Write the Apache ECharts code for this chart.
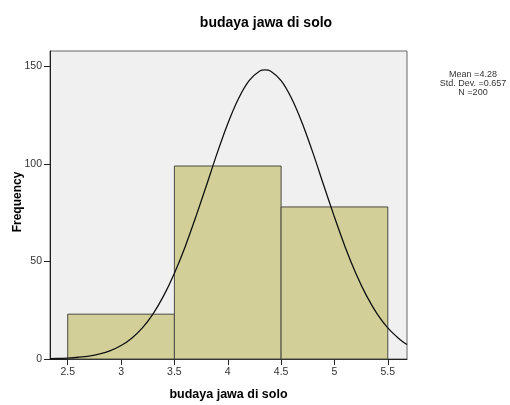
<!DOCTYPE html>
<html>
<head>
<meta charset="utf-8">
<script src="https://cdn.jsdelivr.net/npm/echarts@6/dist/echarts.min.js"></script>
<style>html,body{margin:0;padding:0;background:#fff;}#c{width:510px;height:405px;}</style>
</head>
<body>
<div id="c"></div>
<script>
var binStarts = [2.5, 3.5, 4.5];
var binEnds = [3.5, 4.5, 5.5];
var counts = [23, 99, 78];
var curveX = [2.334, 2.4, 2.5, 2.6, 2.7, 2.8, 2.9, 3.0, 3.1, 3.2, 3.3, 3.4, 3.5, 3.6, 3.7, 3.8, 3.9, 4.0, 4.1, 4.2, 4.3, 4.35, 4.4, 4.5, 4.6, 4.7, 4.8, 4.9, 5.0, 5.1, 5.2, 5.3, 5.4, 5.5, 5.6, 5.68];
var curveY = [0.2, 0.25, 0.5, 0.9, 1.5, 2.6, 4.3, 6.9, 10.7, 16, 23.2, 32.5, 44, 57.5, 72.8, 89, 105.5, 120.7, 133.5, 142.8, 147.7, 148.3, 147.7, 142.8, 133.5, 120.7, 105.5, 89, 72.8, 57.5, 44, 32.5, 23.2, 16, 10.7, 7.4];
var xTicks = [2.5, 3, 3.5, 4, 4.5, 5, 5.5];
var yTicks = [0, 50, 100, 150];
var statsLines = ['Mean =4.28', 'Std. Dev. =0.657', 'N =200'];
var yName = 'Frequency';

var chart = echarts.init(document.getElementById('c'), null, {renderer: 'canvas'});
var bins = binStarts.map(function (s, i) { return [s, binEnds[i], counts[i]]; });
var curve = curveX.map(function (x, i) { return [x, curveY[i]]; });
var font = 'Arial, Liberation Sans';

var graphics = statsLines.map(function (t, i) {
  return {
    type: 'text',
    style: {text: t, x: 473, y: 75 + i * 9, textAlign: 'center', textVerticalAlign: 'middle',
      fontFamily: font, fontSize: 9, fill: '#333'}
  };
});
graphics.push({
  type: 'text', x: 18, y: 202, rotation: Math.PI / 2,
  style: {text: yName, x: 0, y: 0, textAlign: 'center', textVerticalAlign: 'middle',
    fontFamily: font, fontSize: 12, fontWeight: 'bold', fill: '#000'}
});

chart.setOption({
  animation: false,
  backgroundColor: '#fff',
  title: {
    text: 'budaya jawa di solo',
    left: 261, top: 11, textAlign: 'center',
    textStyle: {fontFamily: font, fontSize: 14, fontWeight: 'bold', color: '#000'}
  },
  grid: {
    left: 50, top: 51, right: 103, bottom: 46,
    containLabel: false, outerBoundsMode: 'none',
    show: true, backgroundColor: '#f0f0f0', borderColor: '#666', borderWidth: 1
  },
  xAxis: {
    type: 'value', min: 2.334, max: 5.68,
    name: 'budaya jawa di solo', nameLocation: 'middle', nameGap: 29,
    nameTextStyle: {fontFamily: font, fontSize: 12.5, fontWeight: 'bold', color: '#000'},
    axisLine: {show: true, onZero: false, lineStyle: {color: '#222', width: 1}},
    axisTick: {show: true, length: 6, customValues: xTicks, lineStyle: {color: '#222'}},
    axisLabel: {customValues: xTicks, fontFamily: font, fontSize: 10.5, color: '#333', margin: 8},
    splitLine: {show: false}
  },
  yAxis: {
    type: 'value', min: 0, max: 158,
    axisLine: {show: true, lineStyle: {color: '#222', width: 1}},
    axisTick: {show: true, length: 6, customValues: yTicks, lineStyle: {color: '#222'}},
    axisLabel: {customValues: yTicks, fontFamily: font, fontSize: 10.5, color: '#333', margin: 8},
    splitLine: {show: false}
  },
  graphic: graphics,
  series: [
    {
      type: 'custom',
      data: bins,
      renderItem: function (params, api) {
        var p0 = api.coord([api.value(0), api.value(2)]);
        var p1 = api.coord([api.value(1), 0]);
        return {
          type: 'rect',
          shape: {x: p0[0], y: p0[1], width: p1[0] - p0[0], height: p1[1] - p0[1]},
          style: {fill: '#d3cf99', stroke: '#4a4a44', lineWidth: 1}
        };
      },
      encode: {x: [0, 1], y: 2},
      z: 2
    },
    {
      type: 'line',
      data: curve,
      smooth: 0.3,
      showSymbol: false,
      lineStyle: {color: '#111', width: 1.3},
      z: 3
    }
  ]
});
</script>
</body>
</html>
